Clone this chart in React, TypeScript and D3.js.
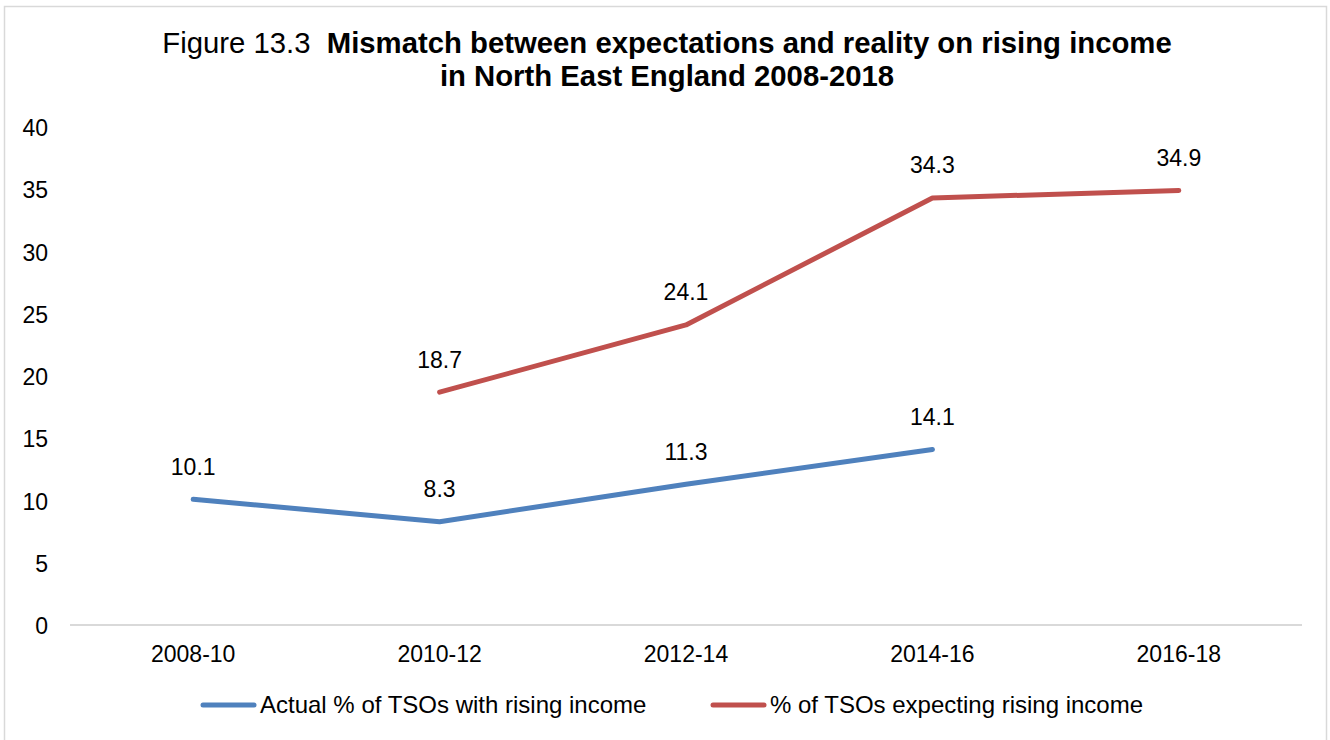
import React from "react";
import * as d3 from "d3";

const categories = ["2008-10", "2010-12", "2012-14", "2014-16", "2016-18"];
const actualValues: (number | null)[] = [10.1, 8.3, 11.3, 14.1, null];
const expectedValues: (number | null)[] = [null, 18.7, 24.1, 34.3, 34.9];
const yTicks = [0, 5, 10, 15, 20, 25, 30, 35, 40];
const seriesNames = ["Actual % of TSOs with rising income", "% of TSOs expecting rising income"];
const seriesColors = ["#4F81BD", "#C0504D"];

const W = 1330;
const H = 740;
const FONT = "'Liberation Sans', Arial, sans-serif";

export default function App() {
  const x = d3.scaleBand<string>().domain(categories).range([70, 1302]);
  const y = d3.scaleLinear().domain([0, 40]).range([625, 127]);
  const cx = (c: string) => (x(c) as number) + x.bandwidth() / 2;

  const line = d3
    .line<{ c: string; v: number | null }>()
    .defined((d) => d.v !== null)
    .x((d) => cx(d.c))
    .y((d) => y(d.v as number));

  const series = [actualValues, expectedValues].map((vals) =>
    categories.map((c, i) => ({ c, v: vals[i] }))
  );

  return (
    <svg
      width={W}
      height={H}
      style={{ position: "absolute", left: 0, top: 0, background: "#fff" }}
      fontFamily={FONT}
    >
      <rect x={4.5} y={6.5} width={1322} height={740} fill="#fff" stroke="#D9D9D9" strokeWidth={1.5} />
      <text x={667} y={53} textAnchor="middle" fontSize={29.3} fill="#000">
        <tspan>Figure 13.3{"\u00A0\u00A0"}</tspan>
        <tspan fontWeight="bold">Mismatch between expectations and reality on rising income</tspan>
      </text>
      <text x={667} y={86} textAnchor="middle" fontSize={29.3} fontWeight="bold" fill="#000">
        in North East England 2008-2018
      </text>

      {yTicks.map((t) => (
        <text key={t} x={48} y={y(t) + 9} textAnchor="end" fontSize={23} fill="#000">
          {t}
        </text>
      ))}
      <line x1={70} x2={1302} y1={y(0)} y2={y(0)} stroke="#D9D9D9" strokeWidth={2} />
      {categories.map((c) => (
        <text key={c} x={cx(c)} y={662} textAnchor="middle" fontSize={23} fill="#000">
          {c}
        </text>
      ))}

      {series.map((s, i) => (
        <path
          key={i}
          d={line(s) || ""}
          fill="none"
          stroke={seriesColors[i]}
          strokeWidth={5}
          strokeLinecap="round"
          strokeLinejoin="round"
        />
      ))}
      {series.map((s, i) =>
        s
          .filter((d) => d.v !== null)
          .map((d) => (
            <text
              key={i + d.c}
              x={cx(d.c)}
              y={y(d.v as number) - 24.5}
              textAnchor="middle"
              fontSize={23}
              fill="#000"
            >
              {(d.v as number).toFixed(1)}
            </text>
          ))
      )}

      {/* legend */}
      <line x1={203} x2={254} y1={705} y2={705} stroke={seriesColors[0]} strokeWidth={5} strokeLinecap="round" />
      <text x={260} y={713} fontSize={24} fill="#000">{seriesNames[0]}</text>
      <line x1={713} x2={764} y1={705} y2={705} stroke={seriesColors[1]} strokeWidth={5} strokeLinecap="round" />
      <text x={770} y={713} fontSize={24} fill="#000">{seriesNames[1]}</text>
    </svg>
  );
}
